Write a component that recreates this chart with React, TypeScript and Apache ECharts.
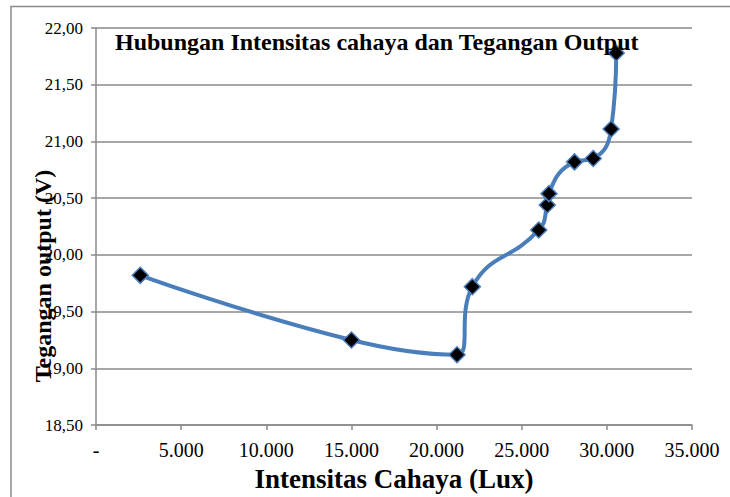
import React, { useEffect, useRef } from "react";
import * as echarts from "echarts";

const luxValues = [2600, 15000, 21200, 22100, 26000, 26500, 26600, 28100, 29200, 30250, 30550];
const voltValues = [19.82, 19.25, 19.12, 19.72, 20.22, 20.44, 20.54, 20.82, 20.85, 21.11, 21.78];
const chartTitle = "Hubungan Intensitas cahaya dan Tegangan Output";
const xTitle = "Intensitas Cahaya (Lux)";
const yTitle = "Tegangan output (V)";

const FONT = "Liberation Serif";
const GRID_COLOR = "#8a8a8a";

export default function App() {
  const ref = useRef<HTMLDivElement>(null);
  useEffect(() => {
    if (!ref.current) return;
    const chart = echarts.init(ref.current, undefined, { renderer: "svg" });
    const data = luxValues.map((x, i) => [x, voltValues[i]]);
    chart.setOption({
      animation: false,
      backgroundColor: "#ffffff",
      textStyle: { fontFamily: FONT },
      grid: { left: 96, top: 28, right: 38, bottom: 69, containLabel: false },
      xAxis: {
        type: "value",
        min: 0,
        max: 35000,
        interval: 5000,
        axisLine: { show: true, lineStyle: { color: GRID_COLOR, width: 1.5 } },
        axisTick: { show: true, length: 5, lineStyle: { color: GRID_COLOR, width: 1.5 } },
        splitLine: { show: false },
        axisLabel: {
          margin: 15,
          color: "#000",
          fontFamily: FONT,
          fontSize: 20,
          formatter: (v: number) =>
            v === 0 ? "-" : String(v).replace(/\B(?=(\d{3})+(?!\d))/g, "."),
        },
        name: xTitle,
        nameLocation: "middle",
        nameGap: 36,
        nameTextStyle: { color: "#000", fontFamily: FONT, fontSize: 27, fontWeight: "bold" },
      },
      yAxis: {
        type: "value",
        min: 18.5,
        max: 22,
        interval: 0.5,
        axisLine: { show: true, lineStyle: { color: GRID_COLOR, width: 1.5 } },
        axisTick: { show: true, length: 5, lineStyle: { color: GRID_COLOR, width: 1.5 } },
        splitLine: { show: true, lineStyle: { color: GRID_COLOR, width: 1.5 } },
        axisLabel: {
          margin: 13,
          color: "#000",
          fontFamily: FONT,
          fontSize: 17,
          formatter: (v: number) => v.toFixed(2).replace(".", ","),
        },
      },
      series: [
        {
          type: "line",
          data,
          smooth: 0.5,
          symbol: "diamond",
          symbolSize: 16,
          lineStyle: { color: "#4A7EBB", width: 4 },
          itemStyle: { color: "#000", borderColor: "#4A7EBB", borderWidth: 1.5 },
          z: 5,
        },
      ],
      graphic: [
        {
          type: "rect",
          shape: { x: 11, y: 6.5, width: 760, height: 520 },
          style: { fill: "none", stroke: "#8a8a8a", lineWidth: 1.5 },
          silent: true,
          z: -1,
        },
        {
          type: "text",
          left: 115,
          top: 30,
          style: {
            text: chartTitle,
            fill: "#000",
            fontFamily: FONT,
            fontSize: 24,
            fontWeight: "bold",
          },
          z: 10,
        },
        {
          type: "text",
          x: 43,
          y: 276,
          rotation: Math.PI / 2,
          style: {
            text: yTitle,
            fill: "#000",
            fontFamily: FONT,
            fontSize: 24,
            fontWeight: "bold",
            align: "center",
            verticalAlign: "middle",
          },
          z: 10,
        },
      ],
    });
    return () => chart.dispose();
  }, []);
  return <div ref={ref} style={{ width: 730, height: 497, position: "absolute", left: 0, top: 0 }} />;
}
